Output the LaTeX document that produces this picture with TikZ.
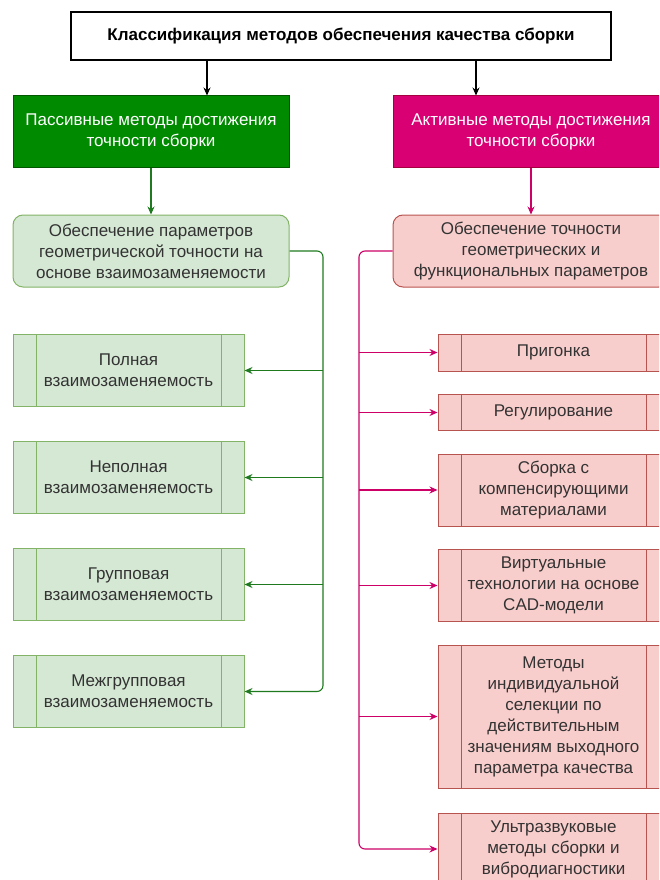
\documentclass[tikz,border=0pt]{standalone}
\usepackage{fontspec}
\setmainfont{Liberation Sans}
\usetikzlibrary{positioning,arrows.meta}
\definecolor{passivefill}{HTML}{008A00}
\definecolor{passiveline}{HTML}{005700}
\definecolor{activefill}{HTML}{D80073}
\definecolor{activeline}{HTML}{A50040}
\definecolor{lgreenfill}{HTML}{D5E8D4}
\definecolor{lgreenline}{HTML}{82B366}
\definecolor{lredfill}{HTML}{F8CECC}
\definecolor{lredline}{HTML}{B85450}
\definecolor{gwire}{HTML}{1F7A1F}
\definecolor{pwire}{HTML}{CC0066}
\definecolor{boxtext}{HTML}{333333}

\begin{document}
\begin{tikzpicture}[
    x=1pt, y=-1pt,
    node distance=34pt,
    font=\fontsize{17}{21}\selectfont,
    titlebox/.style={rectangle, draw=black, line width=1.2pt, fill=white, minimum width=540pt, minimum height=48pt, font=\fontsize{17}{21}\selectfont\bfseries},
    headbox/.style={rectangle, draw=#1line, fill=#1fill, text=white, align=center, minimum width=276pt, minimum height=71pt, inner sep=0pt},
    groupbox/.style={rectangle, draw=#1line, fill=#1fill, text=boxtext, rounded corners=10pt, align=center, minimum width=276pt, minimum height=72pt, inner sep=0pt},
    procbox/.style={rectangle, draw=#1line, fill=#1fill, text=boxtext, align=center, minimum width=231pt, minimum height=72pt, inner sep=0pt,
        path picture={\draw[#1line, line width=1pt]
            ([xshift=23pt]path picture bounding box.north west) -- ([xshift=23pt]path picture bounding box.south west)
            ([xshift=-23pt]path picture bounding box.north east) -- ([xshift=-23pt]path picture bounding box.south east);}},
    line width=1pt,
    arrow/.style={-{Stealth[length=8pt, width=7pt]}, line width=1.1pt},
    garrow/.style={arrow, draw=gwire, rounded corners=6pt},
    parrow/.style={arrow, draw=pwire, rounded corners=6pt}
]
\useasboundingbox (0,0) rectangle (659,880);
\clip (0,0) rectangle (659,880);

% Top
\node[titlebox] (title) at (341,36) {Классификация методов обеспечения качества сборки};

% Two kinds of methods
\node[headbox=passive] (passive) at (151,131.5) {Пассивные методы достижения\\точности сборки};
\node[headbox=active] (active) at (531,131.5) {Активные методы достижения\\точности сборки};

\node[groupbox=lgreen] (geom) at (151,251) {Обеспечение параметров\\геометрической точности на\\основе взаимозаменяемости};
\node[groupbox=lred] (func) at (531,251) {Обеспечение точности\\геометрических и\\функциональных параметров};

% Passive branch
\node[procbox=lgreen] (full) at (128.5,370.5) {Полная\\взаимозаменяемость};
\node[procbox=lgreen, below=of full] (partial) {Неполная\\взаимозаменяемость};
\node[procbox=lgreen, below=of partial] (group) {Групповая\\взаимозаменяемость};
\node[procbox=lgreen, below=of group] (intergroup) {Межгрупповая\\взаимозаменяемость};

% Active branch
\node[procbox=lred, minimum height=37pt] (fitting) at (553.5,352.5) {Пригонка};
\node[procbox=lred, minimum height=36pt, below=22.5pt of fitting] (adjust) {Регулирование};
\node[procbox=lred, below=22.5pt of adjust] (compens) {Сборка с\\компенсирующими\\материалами};
\node[procbox=lred, below=22.5pt of compens] (virtual) {Виртуальные\\технологии на основе\\CAD-модели};
\node[procbox=lred, minimum height=143pt, below=22.5pt of virtual] (select) {Методы\\индивидуальной\\селекции по\\действительным\\значениям выходного\\параметра качества};
\node[procbox=lred, below=24pt of select] (ultra) {Ультразвуковые\\методы сборки и\\вибродиагностики};

% Arrows
\draw[arrow] ([xshift=-134pt]title.south) -- ([xshift=-134pt]title.south |- passive.north);
\draw[arrow] ([xshift=135pt]title.south) -- ([xshift=135pt]title.south |- active.north);
\draw[arrow, draw=gwire] (passive) -- (geom);
\draw[arrow, draw=pwire] (active) -- (func);

\coordinate (gbus) at (323,251);
\coordinate (pbus) at (359,251);
\draw[garrow] (geom.east) -- (gbus) |- (intergroup.east);
\foreach \n in {full, partial, group}
    \draw[garrow] (\n.east -| gbus) -- (\n.east);
\draw[parrow] (func.west) -- (pbus) |- (ultra.west);
\foreach \n in {fitting, adjust, compens, virtual, select}
    \draw[parrow] (\n.west -| pbus) -- (\n.west);

\end{tikzpicture}
\end{document}
